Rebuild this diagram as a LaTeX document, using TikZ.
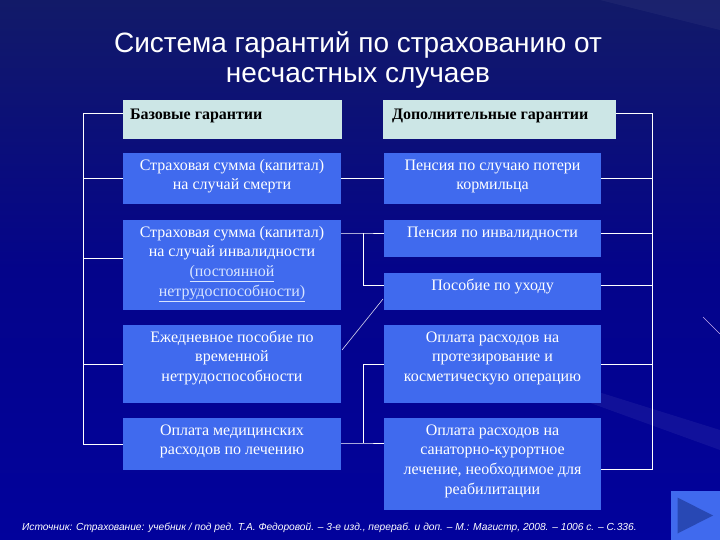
\documentclass[tikz,border=0pt]{standalone}
\usepackage{fontspec}
\setmainfont{Liberation Serif}
\newfontfamily\titlefont{Liberation Sans}
\usetikzlibrary{calc}
\definecolor{boxblue}{RGB}{64,106,238}
\definecolor{headfill}{RGB}{204,230,230}
\definecolor{bgtop}{RGB}{18,26,104}
\definecolor{bgmid}{RGB}{4,4,138}
\definecolor{bgbot}{RGB}{2,2,156}
\definecolor{linkcol}{RGB}{215,228,255}
\definecolor{tricol}{RGB}{40,72,180}
\definecolor{pinkline}{RGB}{230,200,255}
\begin{document}
\begin{tikzpicture}[x=1pt,y=-1pt,
  bx/.style 2 args={fill=boxblue, draw=none, inner sep=0pt, minimum width=#1, minimum height=#2},
  hbx/.style 2 args={fill=headfill, draw=none, inner sep=0pt, minimum width=#1, minimum height=#2},
  txt/.style={anchor=north, inner sep=0pt, align=center, text=white, font=\fontsize{16}{19.6}\selectfont},
  htxt/.style={anchor=base west, inner sep=0pt, text=black, font=\bfseries\fontsize{16}{18}\selectfont},
  conn/.style={draw=white, line width=0.9pt},
  streak/.style={draw=white, line width=0.6pt, opacity=0.85}
]
\useasboundingbox (0,0) rectangle (720,540);
% background
\shade[top color=bgtop, bottom color=bgbot, middle color=bgmid] (0,0) rectangle (720,540);
\fill[white, opacity=0.06] (560,380) -- (720,430) -- (720,450) -- (560,392) -- cycle;
\fill[white, opacity=0.04] (600,0) -- (720,0) -- (720,30) -- cycle;
\draw[streak] (342,350) -- (383,299);
\draw[streak, draw=pinkline] (703,317) -- (720,334);

% title
\node[anchor=north, inner sep=0pt, align=center, text=white,
      font=\titlefont\fontsize{28}{30}\selectfont] (title) at (358,31)
  {\strut Система гарантий по страхованию от\\несчастных случаев};

% headers
\node[hbx={219pt}{39pt}] (hL) at (232.5,119.5) {};
\node[hbx={233pt}{39pt}] (hR) at (499.5,119.5) {};
\node[htxt] (thL) at ([xshift=7pt,yshift=-19.5pt]hL.north west) {Базовые гарантии};
\node[htxt] (thR) at ([xshift=9pt,yshift=-19.5pt]hR.north west) {Дополнительные гарантии};

% left column
\node[bx={218pt}{51pt}] (L1) at (232,178.5) {};
\node[bx={218pt}{90pt}] (L2) at (232,265) {};
\node[bx={218pt}{78pt}] (L3) at (232,364) {};
\node[bx={218pt}{52pt}] (L4) at (232,444) {};
% right column
\node[bx={217pt}{51pt}] (R1) at (492.5,178.5) {};
\node[bx={217pt}{37pt}] (R2a) at (492.5,238.5) {};
\node[bx={217pt}{37pt}] (R2b) at (492.5,291.5) {};
\node[bx={217pt}{78pt}] (R3) at (492.5,364) {};
\node[bx={217pt}{92pt}] (R4) at (492.5,464) {};

% texts
\node[txt] (tL1) at ([yshift=-3.5pt]L1.north) {\strut Страховая сумма (капитал)\\на случай смерти};
\node[txt] (tL2) at ([yshift=-3.5pt]L2.north) {\strut Страховая сумма (капитал)\\на случай инвалидности\\\textcolor{linkcol}{\underline{(постоянной}}\\\textcolor{linkcol}{\underline{нетрудоспособности)}}};
\node[txt] (tL3) at ([yshift=-3.5pt]L3.north) {\strut Ежедневное пособие по\\временной\\нетрудоспособности};
\node[txt] (tL4) at ([yshift=-3.5pt]L4.north) {\strut Оплата медицинских\\расходов по лечению};
\node[txt] (tR1) at ([yshift=-3.5pt]R1.north) {\strut Пенсия по случаю потери\\кормильца};
\node[txt] (tR2a) at ([yshift=-3.5pt]R2a.north) {\strut Пенсия по инвалидности};
\node[txt] (tR2b) at ([yshift=-3.5pt]R2b.north) {\strut Пособие по уходу};
\node[txt] (tR3) at ([yshift=-3.5pt]R3.north) {\strut Оплата расходов на\\протезирование и\\косметическую операцию};
\node[txt] (tR4) at ([yshift=-3.5pt]R4.north) {\strut Оплата расходов на\\санаторно-курортное\\лечение, необходимое для\\реабилитации};

% bracket coordinates
\coordinate (bl) at (83,0);
\coordinate (br) at (652,0);
\coordinate (m2) at (363,233);
\coordinate (m3) at (363,443);

% left bracket
\draw[conn] ([yshift=6.5pt]hL.west) -| (L4.west -| bl) -- (L4.west);
\draw[conn] (L1.west) -- (L1.west -| bl);
\draw[conn] ([yshift=7pt]L2.west) -- ([yshift=7pt]L2.west -| bl);
\draw[conn] (L3.west) -- (L3.west -| bl);
% right bracket
\draw[conn] ([yshift=6.5pt]hR.east) -| ([yshift=-5pt]R4.east -| br) -- ([yshift=-5pt]R4.east);
\draw[conn] (R1.east) -- (R1.east -| br);
\draw[conn] ([yshift=5.5pt]R2a.east) -- ([yshift=5.5pt]R2a.east -| br);
\draw[conn] ([yshift=6.5pt]R2b.east) -- ([yshift=6.5pt]R2b.east -| br);
\draw[conn] (R3.east) -- (R3.east -| br);
% middle connectors
\draw[conn] (L1.east) -- (R1.west);
\draw[conn] (L2.east |- m2) -- (m2) -- (m2 -| R2a.west);
\draw[conn] (m2) |- ([yshift=6.5pt]R2b.west);
\draw[conn] (L4.east |- m3) -- (m3) -- (m3 -| R4.west);
\draw[conn] (m3) |- (R3.west);

% source
\node[anchor=base west, inner sep=0pt, text=white, font=\titlefont\itshape\fontsize{10.2}{12}\selectfont] (src) at (22,530)
  {Источник: Страхование: учебник / под ред. Т.А. Федоровой. – 3-е изд., перераб. и доп. – М.: Магистр, 2008. – 1006 с. – С.336.};

% navigation button
\node[fill=boxblue, draw=none, inner sep=0pt, minimum width=49pt, minimum height=49pt] (btn) at (695.5,515.5) {};
\fill[tricol] ([xshift=-18pt,yshift=18pt]btn.center) -- ([xshift=-18pt,yshift=-18pt]btn.center) -- ([xshift=17.5pt]btn.center) -- cycle;
\end{tikzpicture}
\end{document}
